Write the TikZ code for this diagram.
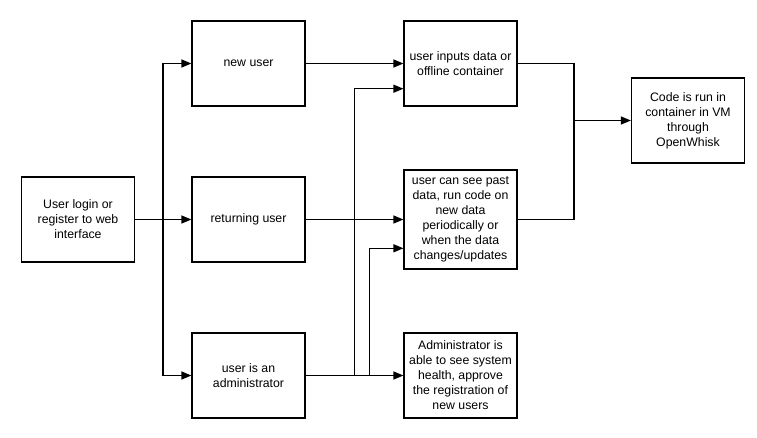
\documentclass[tikz,border=0pt]{standalone}
\usepackage{fontspec}
\setmainfont{Liberation Sans}
\usetikzlibrary{arrows.meta,calc}
\begin{document}
\begin{tikzpicture}[x=1pt,y=-1pt,
  box/.style={draw, line width=1.2pt, minimum width=113pt, align=center,
    font=\fontsize{12.3}{15}\selectfont, inner sep=0pt},
  line/.style={line width=1.3pt},
  arr/.style={line width=1.3pt, -{Triangle[length=10pt,width=8pt]}}]
\useasboundingbox[fill=white] (0,0) rectangle (757,437);
\node[box, minimum height=85pt] (login) at (78,219.5) {User login or\\register to web\\interface};
\node[box, minimum height=85pt] (new) at (248.5,63.5) {new user};
\node[box, minimum height=85pt] (ret) at (248.5,219.5) {returning user};
\node[box, minimum height=85pt] (adm) at (248.5,375.5) {user is an\\administrator};
\node[box, minimum height=85pt] (inp) at (460.5,63.5) {user inputs data or\\offline container};
\node[box, minimum height=99pt] (see) at (460.5,219.5) {user can see past\\data, run code on\\new data\\periodically or\\when the data\\changes/updates};
\node[box, minimum height=85pt] (admres) at (460.5,375.5) {Administrator is\\able to see system\\health, approve\\the registration of\\new users};
\node[box, minimum height=85pt] (code) at (688,120.5) {Code is run in\\container in VM\\through\\OpenWhisk};
\coordinate (sp) at (163,0);
\coordinate (a1) at (354.5,0);
\coordinate (a2) at (369.5,0);
\coordinate (m) at (574,0);
% left fan-out
\draw[arr] (login.east) -- (ret.west);
\draw[arr] (sp |- login.east) |- (new.west);
\draw[arr] (sp |- login.east) |- (adm.west);
% middle
\draw[arr] (new.east) -- (inp.west);
\draw[arr] (ret.east) -- (see.west);
\draw[arr] (adm.east) -- (admres.west);
\draw[arr] (a1 |- adm.east) |- ($(inp.west)+(0,25.2)$);
\draw[arr] (a2 |- adm.east) |- ($(see.west)+(0,28.8)$);
% right merge
\draw[line] (inp.east) -| (m |- see.east) -- (see.east);
\draw[arr] (m |- code.west) -- (code.west);
\end{tikzpicture}
\end{document}
